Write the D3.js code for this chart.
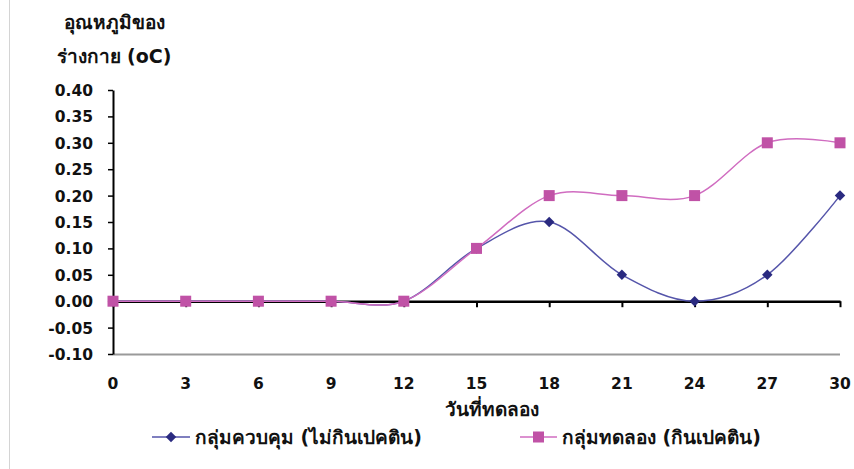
<!DOCTYPE html>
<html>
<head>
<meta charset="utf-8">
<script src="https://cdn.jsdelivr.net/npm/d3@7"></script>
<style>
  html, body { margin: 0; padding: 0; background: #fff; }
  svg text { font-family: "DejaVu Sans", "Noto Sans", sans-serif; font-weight: bold; fill: #111; }
</style>
</head>
<body>
<svg id="chart" width="854" height="469"></svg>
<script>
// Body temperature change by trial day
const days = [0, 3, 6, 9, 12, 15, 18, 21, 24, 27, 30];
const controlValues = [0, 0, 0, 0, 0, 0.10, 0.15, 0.05, 0.00, 0.05, 0.20];
const pectinValues  = [0, 0, 0, 0, 0, 0.10, 0.20, 0.20, 0.20, 0.30, 0.30];
const yTicks = [0.40, 0.35, 0.30, 0.25, 0.20, 0.15, 0.10, 0.05, 0.00, -0.05, -0.10];
const seriesNames = ["กลุ่มควบคุม (ไม่กินเปคติน)", "กลุ่มทดลอง (กินเปคติน)"];
const yTitle = ["อุณหภูมิของ", "ร่างกาย (oC)"];
const xTitle = "วันที่ทดลอง";

const svg = d3.select("#chart");
const plot = { left: 113, right: 840, top: 90, bottom: 354 };

const x = d3.scaleLinear().domain([0, 30]).range([plot.left, plot.right]);
const y = d3.scaleLinear().domain([-0.10, 0.40]).range([plot.bottom, plot.top]);

// outer frame edge
svg.append("line").attr("x1", 9.5).attr("x2", 9.5).attr("y1", 0).attr("y2", 469)
  .attr("stroke", "#d4d4d4").attr("stroke-width", 1);

// plot-area bottom border
svg.append("line").attr("x1", plot.left).attr("x2", plot.right)
  .attr("y1", plot.bottom + 0.5).attr("y2", plot.bottom + 0.5)
  .attr("stroke", "#9a9a9a").attr("stroke-width", 2);

// y axis
const fmt = d3.format(".2f");
const yAxis = d3.axisLeft(y).tickValues(yTicks).tickSize(5).tickSizeOuter(0)
  .tickFormat(d => d < 0 ? "-" + fmt(-d) : fmt(d));
const gy = svg.append("g").attr("transform", `translate(${plot.left},0)`).call(yAxis);
gy.select(".domain").attr("stroke", "#000").attr("stroke-width", 2);
gy.selectAll(".tick line").attr("stroke", "#000").attr("stroke-width", 1.5);
gy.selectAll(".tick text").attr("x", -20).attr("dy", "0.36em").style("font-size", "15.5px");

// x axis crossing at zero
const xAxis = d3.axisBottom(x).tickValues(days).tickSize(6).tickSizeOuter(0).tickFormat("");
const gx = svg.append("g").attr("transform", `translate(0,${y(0)})`).call(xAxis);
gx.select(".domain").attr("stroke", "#000").attr("stroke-width", 2.5);
gx.selectAll(".tick line").attr("stroke", "#000").attr("stroke-width", 2);

// x tick labels at the bottom of the plot area
svg.append("g").selectAll("text").data(days).join("text")
  .attr("x", d => x(d)).attr("y", 389).attr("text-anchor", "middle")
  .style("font-size", "15.5px").text(d => d);

// axis titles
svg.append("text").attr("x", 492).attr("y", 416).attr("text-anchor", "middle")
  .style("font-size", "19px").text(xTitle);
svg.append("g").selectAll("text").data(yTitle).join("text")
  .attr("x", 114).attr("y", (d, i) => 29 + i * 34).attr("text-anchor", "middle")
  .style("font-size", "19px").text(d => d);

// smoothed series lines
const line = d3.line().x(d => x(d[0])).y(d => y(d[1])).curve(d3.curveCardinal.tension(0));
const controlPts = days.map((d, i) => [d, controlValues[i]]);
const pectinPts = days.map((d, i) => [d, pectinValues[i]]);

svg.append("path").datum(controlPts).attr("d", line)
  .attr("fill", "none").attr("stroke", "#5555aa").attr("stroke-width", 1.5);
svg.append("path").datum(pectinPts).attr("d", line)
  .attr("fill", "none").attr("stroke", "#d06cc0").attr("stroke-width", 1.5);

// markers
const diamond = d3.symbol().type(d3.symbolDiamond2).size(70);
svg.append("g").selectAll("path").data(controlPts).join("path")
  .attr("transform", d => `translate(${x(d[0])},${y(d[1])})`)
  .attr("d", diamond).attr("fill", "#2a2a80");
svg.append("g").selectAll("rect").data(pectinPts).join("rect")
  .attr("x", d => x(d[0]) - 5.5).attr("y", d => y(d[1]) - 5.5)
  .attr("width", 11).attr("height", 11).attr("fill", "#c052a6");

// legend
const legend = [
  { x1: 152, x2: 190, tx: 195, color: "#5555aa", mark: "diamond", name: seriesNames[0] },
  { x1: 520, x2: 557, tx: 562, color: "#d06cc0", mark: "square", name: seriesNames[1] }
];
const ly = 437;
legend.forEach(l => {
  svg.append("line").attr("x1", l.x1).attr("x2", l.x2).attr("y1", ly).attr("y2", ly)
    .attr("stroke", l.color).attr("stroke-width", 1.5);
  const cx = (l.x1 + l.x2) / 2;
  if (l.mark === "diamond") {
    svg.append("path").attr("transform", `translate(${cx},${ly})`).attr("d", diamond).attr("fill", "#2a2a80");
  } else {
    svg.append("rect").attr("x", cx - 5.5).attr("y", ly - 5.5).attr("width", 11).attr("height", 11).attr("fill", "#c052a6");
  }
  svg.append("text").attr("x", l.tx).attr("y", ly).attr("dy", "0.36em")
    .style("font-size", "19px").text(l.name);
});
</script>
</body>
</html>
